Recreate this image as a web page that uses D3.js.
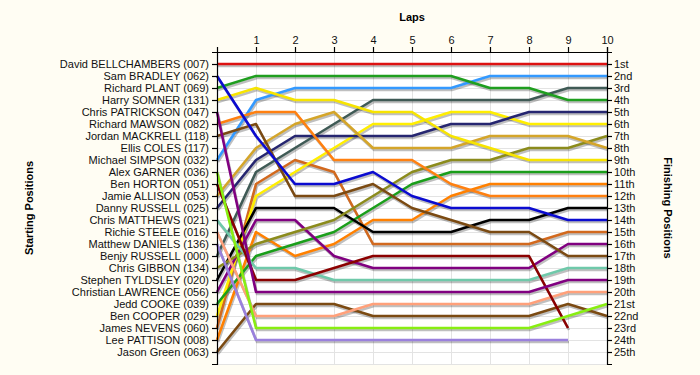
<!DOCTYPE html>
<html>
<head>
<meta charset="utf-8">
<script src="https://cdn.jsdelivr.net/npm/d3@7"></script>
<style>
  body { margin: 0; background: #fffdf3; }
  svg { display: block; font-family: "Liberation Sans", Arial, sans-serif; }
</style>
</head>
<body>
<div id="lapChart"></div>
<script>

// drivers in starting order
const drivers = [
    "David BELLCHAMBERS (007)", "Sam BRADLEY (062)", "Richard PLANT (069)", "Harry SOMNER (131)",
    "Chris PATRICKSON (047)", "Richard MAWSON (082)", "Jordan MACKRELL (118)", "Ellis COLES (117)",
    "Michael SIMPSON (032)", "Alex GARNER (036)", "Ben HORTON (051)", "Jamie ALLISON (053)",
    "Danny RUSSELL (025)", "Chris MATTHEWS (021)", "Richie STEELE (016)", "Matthew DANIELS (136)",
    "Benjy RUSSELL (000)", "Chris GIBBON (134)", "Stephen TYLDSLEY (020)", "Christian LAWRENCE (056)",
    "Jedd COOKE (039)", "Ben COOPER (029)", "James NEVENS (060)", "Lee PATTISON (008)", "Jason Green (063)"
];

const laps = [0, 1, 2, 3, 4, 5, 6, 7, 8, 9, 10];

// position of each driver at the end of lap 0..10 (shorter = retired)
const positions = [
    [1, 1, 1, 1, 1, 1, 1, 1, 1, 1, 1],
    [2, 7, 11, 11, 10, 12, 13, 13, 13, 14, 14],
    [3, 2, 2, 2, 2, 2, 2, 3, 3, 4, 4],
    [4, 3, 4, 4, 5, 5, 7, 8, 9, 9, 9],
    [5, 20, 20, 20, 20, 20, 20, 20, 20, 19, 19],
    [6, 5, 5, 9, 9, 9, 11, 12, 12, 12, 12],
    [7, 6, 12, 12, 11, 13, 14, 15, 15, 17, 17],
    [],
    [9, 4, 3, 3, 3, 3, 3, 2, 2, 2, 2],
    [10, 23, 23, 23, 23, 23, 23, 23, 23, 22, 21],
    [11, 19, 19, 18, 17, 17, 17, 17, 17, 23],
    [12, 8, 6, 5, 8, 8, 8, 7, 7, 7, 8],
    [13, 9, 7, 7, 7, 7, 6, 6, 5, 5, 5],
    [14, 18, 18, 19, 19, 19, 19, 19, 19, 18, 18],
    [15, 22, 22, 22, 21, 21, 21, 21, 21, 20, 20],
    [16, 24, 24, 24, 24, 24, 24, 24, 24, 24],
    [17, 10, 8, 6, 4, 4, 4, 4, 4, 3, 3],
    [18, 16, 15, 14, 12, 10, 9, 9, 8, 8, 7],
    [19, 13, 13, 13, 15, 15, 15, 14, 14, 13, 13],
    [20, 14, 14, 17, 18, 18, 18, 18, 18, 16, 16],
    [21, 17, 16, 15, 13, 11, 10, 10, 10, 10, 10],
    [22, 12, 10, 8, 6, 6, 5, 5, 6, 6, 6],
    [23, 11, 9, 10, 16, 16, 16, 16, 16, 15, 15],
    [24, 15, 17, 16, 14, 14, 12, 11, 11, 11, 11],
    [25, 21, 21, 21, 22, 22, 22, 22, 22, 21, 22]
];

const finishLabels = ["1st", "2nd", "3rd", "4th", "5th", "6th", "7th", "8th", "9th", "10th",
    "11th", "12th", "13th", "14th", "15th", "16th", "17th", "18th", "19th", "20th",
    "21st", "22nd", "23rd", "24th", "25th"];

const colors = [
    "#dd1111", "#0b0bd0", "#1f9e1f", "#f7e400", "#800080", "#ff8010", "#7b4a12", "#999999",
    "#3399ff", "#88ee11", "#8b0000", "#d4a52a", "#262670", "#6fc9aa", "#ffa07a", "#9a80dd",
    "#3f5a55", "#8b8b1c", "#000000", "#800080", "#1a9e1a", "#ffee00", "#d2691e", "#ff8000", "#7b4a12"
];

const width = 700, height = 375;
const margin = {top: 52, right: 93, bottom: 11, left: 217};

const svg = d3.select("#lapChart").append("svg")
    .attr("width", width)
    .attr("height", height);

let x = d3.scaleLinear()
    .domain([0, 10])
    .range([margin.left, width - margin.right]);

let y = d3.scaleLinear()
    .domain([0, 26])
    .range([margin.top, height - margin.bottom]);

// plot background
svg.append("rect")
    .attr("x", x(0)).attr("y", y(0))
    .attr("width", x(10) - x(0)).attr("height", y(26) - y(0))
    .attr("fill", "#ffffff");

// grid
let grid = svg.append("g").attr("stroke", "#e3e3e3").attr("stroke-width", 1);
grid.selectAll(".vg").data(laps.slice(1, 10)).enter().append("line")
    .attr("x1", d => x(d) + 0.5).attr("x2", d => x(d) + 0.5)
    .attr("y1", y(0)).attr("y2", y(26));
grid.selectAll(".hg").data(d3.range(1, 27)).enter().append("line")
    .attr("x1", x(0)).attr("x2", x(10))
    .attr("y1", d => y(d) + 0.5).attr("y2", d => y(d) + 0.5);

let line = d3.line()
    .x((d, i) => x(laps[i]))
    .y(d => y(d));

let series = positions.map((p, i) => ({pos: p, color: colors[i]})).filter(d => d.pos.length > 1);

// shadows first
svg.append("g")
    .attr("transform", "translate(1,2)")
    .selectAll("path").data(series).enter().append("path")
    .attr("d", d => line(d.pos))
    .attr("fill", "none")
    .attr("stroke", "#000")
    .attr("stroke-opacity", 0.25)
    .attr("stroke-width", 2.6);

svg.append("g")
    .selectAll("path").data(series.slice().reverse()).enter().append("path")
    .attr("d", d => line(d.pos))
    .attr("fill", "none")
    .attr("stroke", d => d.color)
    .attr("stroke-width", 2.6)
    .attr("stroke-linejoin", "round");

// axes
let leftAxis = d3.axisLeft(y)
    .tickValues(d3.range(1, 26))
    .tickFormat(d => drivers[d - 1])
    .tickSize(5).tickSizeOuter(5).tickPadding(3);

let rightAxis = d3.axisRight(y)
    .tickValues(d3.range(1, 26))
    .tickFormat(d => finishLabels[d - 1])
    .tickSize(5).tickSizeOuter(5).tickPadding(2);

let topAxis = d3.axisTop(x)
    .tickValues(d3.range(1, 11))
    .tickFormat(d3.format("d"))
    .tickSize(5).tickSizeOuter(5).tickPadding(3);

function styleAxis(g) {
    g.selectAll("path, line").attr("stroke", "#000").attr("stroke-width", 1.2);
    g.selectAll("text").attr("fill", "#111").style("font-size", "11px");
}

svg.append("g").attr("transform", `translate(${x(0)},0)`).call(leftAxis).call(styleAxis);
svg.append("g").attr("transform", `translate(${x(10)},0)`).call(rightAxis).call(styleAxis);
svg.append("g").attr("transform", `translate(0,${y(0)})`).call(topAxis).call(styleAxis);

// titles
svg.append("text")
    .attr("x", (x(0) + x(10)) / 2).attr("y", 21)
    .attr("text-anchor", "middle")
    .style("font-size", "11px").style("font-weight", "bold")
    .text("Laps");

svg.append("text")
    .attr("transform", `translate(33,${(y(0) + y(26)) / 2}) rotate(-90)`)
    .attr("text-anchor", "middle")
    .style("font-size", "11px").style("font-weight", "bold")
    .text("Starting Positions");

svg.append("text")
    .attr("transform", `translate(664,${(y(0) + y(26)) / 2}) rotate(90)`)
    .attr("text-anchor", "middle")
    .style("font-size", "11px").style("font-weight", "bold")
    .text("Finishing Positions");

</script>
</body>
</html>
